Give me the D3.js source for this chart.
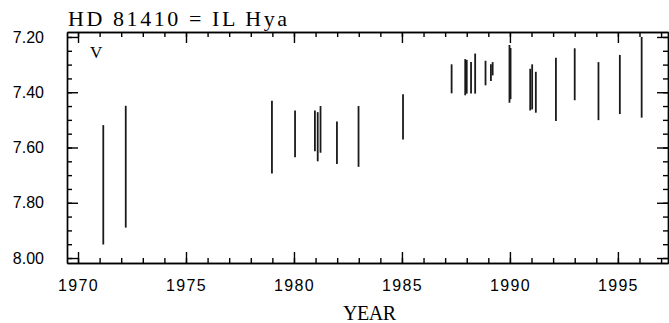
<!DOCTYPE html>
<html>
<head>
<meta charset="utf-8">
<script src="https://cdn.jsdelivr.net/npm/d3@7"></script>
<style>
  body { margin: 0; background: #fff; }
  .axis text { font-family: "Liberation Sans", Arial, sans-serif; font-size: 16px; fill: #000; }
  .axis line, .axis path { stroke: #000; stroke-width: 1.4; }
  .axis--x text { letter-spacing: 1.3px; }
</style>
</head>
<body>
<div id="chart"></div>
<script>
// observation epochs (decimal year) and V magnitude ranges
const years = [1971.17, 1972.21, 1978.98, 1980.05, 1980.97, 1981.10, 1981.23, 1981.99, 1982.99,
               1985.05, 1987.30, 1987.93, 1988.00, 1988.20, 1988.39, 1988.87, 1989.12, 1989.20,
               1989.98, 1990.03, 1990.94, 1991.03, 1991.20, 1992.13, 1993.00, 1994.10, 1995.09, 1996.10];
const vTop = [7.519, 7.449, 7.431, 7.466, 7.466, 7.472, 7.450, 7.506, 7.450,
              7.407, 7.299, 7.280, 7.283, 7.291, 7.260, 7.286, 7.299, 7.291,
              7.229, 7.240, 7.315, 7.299, 7.326, 7.275, 7.241, 7.291, 7.265, 7.200];
const vBottom = [7.951, 7.890, 7.694, 7.635, 7.614, 7.650, 7.619, 7.660, 7.670,
                 7.571, 7.404, 7.411, 7.405, 7.405, 7.405, 7.375, 7.359, 7.339,
                 7.438, 7.425, 7.466, 7.462, 7.474, 7.504, 7.429, 7.501, 7.479, 7.492];
const xMajor = [1970, 1975, 1980, 1985, 1990, 1995];
const yMajor = [7.20, 7.40, 7.60, 7.80, 8.00];

let data = years.map(function(d, i) { return {year: d, lo: vTop[i], hi: vBottom[i]}; });

let svgWidth = 669, svgHeight = 323;
let margin = {top: 32, right: 1, bottom: 60, left: 67},
    width = svgWidth - margin.left - margin.right,
    height = svgHeight - margin.top - margin.bottom;

let svg = d3.select("#chart").append("svg")
    .attr("width", svgWidth)
    .attr("height", svgHeight);

let x = d3.scaleLinear().domain([1969.49, 1997.32]).range([0, width]),
    y = d3.scaleLinear().domain([7.182, 8.018]).range([0, height]);

let g = svg.append("g")
    .attr("transform", "translate(" + margin.left + "," + margin.top + ")");

let xMinor = d3.range(1970, 1998, 1),
    yMinor = d3.range(7.20, 8.0001, 0.05);

// minor ticks (inward, all four sides)
g.append("g").attr("class", "axis").attr("transform", "translate(0," + height + ")")
    .call(d3.axisBottom(x).tickValues(xMinor).tickSize(-5).tickSizeOuter(0).tickFormat(""));
g.append("g").attr("class", "axis")
    .call(d3.axisTop(x).tickValues(xMinor).tickSize(-5).tickSizeOuter(0).tickFormat(""));
g.append("g").attr("class", "axis")
    .call(d3.axisLeft(y).tickValues(yMinor).tickSize(-5).tickSizeOuter(0).tickFormat(""));
g.append("g").attr("class", "axis").attr("transform", "translate(" + width + ",0)")
    .call(d3.axisRight(y).tickValues(yMinor).tickSize(-5).tickSizeOuter(0).tickFormat(""));

// major ticks + labels
g.append("g").attr("class", "axis axis--x").attr("transform", "translate(0," + height + ")")
    .call(d3.axisBottom(x).tickValues(xMajor).tickSize(-11).tickSizeOuter(0).tickPadding(17).tickFormat(d3.format("d")));
g.append("g").attr("class", "axis")
    .call(d3.axisTop(x).tickValues(xMajor).tickSize(-11).tickSizeOuter(0).tickFormat(""));
g.append("g").attr("class", "axis")
    .call(d3.axisLeft(y).tickValues(yMajor).tickSize(-11).tickSizeOuter(0).tickPadding(23).tickFormat(d3.format(".2f")));
g.append("g").attr("class", "axis").attr("transform", "translate(" + width + ",0)")
    .call(d3.axisRight(y).tickValues(yMajor).tickSize(-11).tickSizeOuter(0).tickFormat(""));

// magnitude ranges
g.selectAll(".bar")
    .data(data)
    .enter().append("line")
      .attr("class", "bar")
      .attr("x1", function(d) { return x(d.year); })
      .attr("x2", function(d) { return x(d.year); })
      .attr("y1", function(d) { return y(d.lo); })
      .attr("y2", function(d) { return y(d.hi); })
      .attr("stroke", "#1a1a1a")
      .attr("stroke-width", 1.8);

// labels
svg.append("text")
    .attr("x", 68).attr("y", 26)
    .attr("textLength", 219).attr("lengthAdjust", "spacing")
    .style("font-family", "'Liberation Serif', 'DejaVu Serif', serif")
    .style("font-size", "22px")
    .text("HD 81410 = IL Hya");

g.append("text")
    .attr("x", 90 - margin.left).attr("y", 58 - margin.top)
    .style("font-family", "'Liberation Serif', 'DejaVu Serif', serif")
    .style("font-size", "17px")
    .text("V");

svg.append("text")
    .attr("x", 343).attr("y", 320)
    .attr("textLength", 53).attr("lengthAdjust", "spacing")
    .style("font-family", "'Liberation Serif', 'DejaVu Serif', serif")
    .style("font-size", "20px")
    .text("YEAR");
</script>
</body>
</html>
